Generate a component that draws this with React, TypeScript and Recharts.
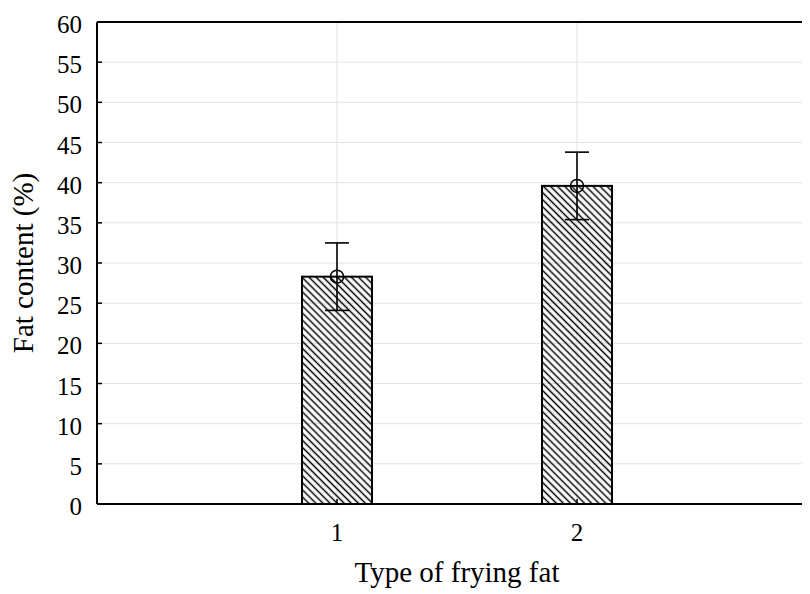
import React from 'react';
import { ComposedChart, Bar, XAxis, YAxis, CartesianGrid, ErrorBar, ReferenceLine } from 'recharts';

const fryingFatTypes = [1, 2];
const fatContent = [28.3, 39.6];
const fatError = [4.2, 4.2];
const yTicks = [0, 5, 10, 15, 20, 25, 30, 35, 40, 45, 50, 55, 60];
const xTicks = [1, 2];

const data = fryingFatTypes.map((t, i) => ({ type: t, fat: fatContent[i], err: fatError[i] }));

const FONT = '"Liberation Serif", "Times New Roman", serif';

const HatchBar = (props: any) => {
  const { x, y, width, height, index } = props;
  const id = `hatch-${index}`;
  return (
    <g>
      <defs>
        <pattern id={id} patternUnits="userSpaceOnUse" width={5} height={5} patternTransform="rotate(-45)">
          <line x1={2.5} y1={0} x2={2.5} y2={5} stroke="#000" strokeWidth={1.5} />
        </pattern>
      </defs>
      <rect x={x} y={y} width={width} height={height} fill={`url(#${id})`} stroke="#000" strokeWidth={2} />
      <circle cx={x + width / 2} cy={y} r={6.5} fill="none" stroke="#000" strokeWidth={1.5} />
    </g>
  );
};

const YTick = (props: any) => {
  const { x, y, payload } = props;
  return (
    <g>
      <text x={x} y={y} dy={11} textAnchor="end" fontFamily={FONT} fontSize={25} fill="#000">
        {payload.value}
      </text>
      <line x1={x + 15} x2={x + 20} y1={y} y2={y} stroke="#000" strokeWidth={1.5} />
    </g>
  );
};

const XTick = (props: any) => {
  const { x, y, payload } = props;
  return (
    <g>
      <text x={x} y={y} dy={22} textAnchor="middle" fontFamily={FONT} fontSize={25} fill="#000">
        {payload.value}
      </text>
      <line x1={x} x2={x} y1={y - 15} y2={y - 20} stroke="#000" strokeWidth={1.5} />
    </g>
  );
};

const YLabel = (props: any) => {
  const { viewBox } = props;
  const cx = viewBox.x + 15;
  const cy = viewBox.y + viewBox.height / 2;
  return (
    <g transform={`translate(${cx}, ${cy}) rotate(-90)`}>
      <text x={0} y={10} textAnchor="middle" fontFamily={FONT} fontSize={29} fill="#000">
        Fat content (%)
      </text>
    </g>
  );
};

export default function App() {
  return (
    <div style={{ width: 802, height: 586, overflow: 'hidden' }}>
      <ComposedChart
        width={812}
        height={586}
        data={data}
        margin={{ top: 14, right: 3, left: 0, bottom: 50 }}
      >
        <CartesianGrid stroke="#e2e2e2" strokeWidth={1} />
        <XAxis
          dataKey="type"
          type="number"
          domain={[0, 3]}
          ticks={xTicks}
          height={40}
          tickSize={5}
          tickMargin={10}
          tickLine={false}
          tick={<XTick />}
          axisLine={{ stroke: '#000', strokeWidth: 2 }}
          label={{
            value: 'Type of frying fat',
            position: 'bottom',
            offset: 17,
            style: { fontFamily: FONT, fontSize: 29, fill: '#000' },
          }}
        />
        <YAxis
          type="number"
          domain={[0, 60]}
          ticks={yTicks}
          width={89}
          tickSize={5}
          tickMargin={10}
          tickLine={false}
          tick={<YTick />}
          axisLine={{ stroke: '#000', strokeWidth: 2 }}
          label={{ content: <YLabel /> }}
        />
        <ReferenceLine y={60} stroke="#000" strokeWidth={2} ifOverflow="visible" />
        <Bar dataKey="fat" barSize={70} shape={<HatchBar />} isAnimationActive={false}>
          <ErrorBar dataKey="err" width={12} stroke="#000" strokeWidth={1.6} direction="y" />
        </Bar>
      </ComposedChart>
    </div>
  );
}
